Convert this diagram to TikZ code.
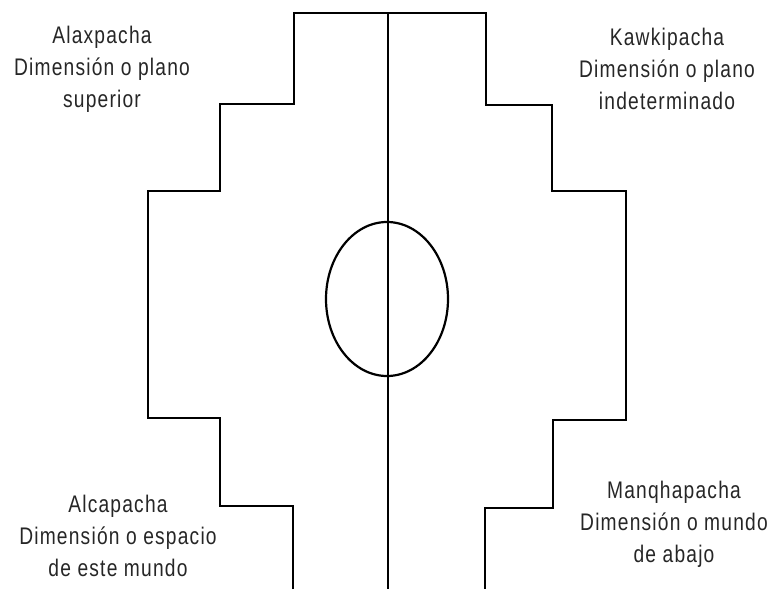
\documentclass[tikz,border=0pt]{standalone}
\usepackage{fontspec}
\setmainfont{Liberation Sans}[FakeStretch=0.8,LetterSpace=5]
\usetikzlibrary{positioning}
\tikzset{
  contorno/.style={draw=black, line width=2.8pt, line join=miter},
  eje/.style={draw=black, line width=2.2pt},
  etiq/.style={align=center, inner sep=0pt, text=black!85,
    font=\fontsize{24}{32}\selectfont},
}

\begin{document}
\begin{tikzpicture}[x=1pt, y=-1pt]
      \useasboundingbox (0,0) rectangle (770,589);
      % escalonado
      \draw[contorno] (293,589) -- (293,506) -- (220,506) -- (220,418)
        -- (148,418) -- (148,191) -- (220,191) -- (220,104) -- (294,104)
        -- (294,13) -- (486,13) -- (486,105) -- (552,105) -- (552,191)
        -- (626,191) -- (626,420) -- (553,420) -- (553,508) -- (485,508)
        -- (485,589);
      \draw[eje] (388,13) -- (388,589);
      \draw[eje] (387,299) ellipse [x radius=61, y radius=77];
      % cuatro pachas
      \node[etiq] (alax) at (102,69) {Alaxpacha\\Dimensión o plano\\superior};
      \node[etiq] (kawki) at (667,69) {Kawkipacha\\Dimensión o plano\\indeterminado};
      \node[etiq] (alca) at (118,536) {Alcapacha\\Dimensión o espacio\\de este mundo};
      \node[etiq] (manqha) at (674,524) {Manqhapacha\\Dimensión o mundo\\de abajo};
    \end{tikzpicture}
\end{document}
